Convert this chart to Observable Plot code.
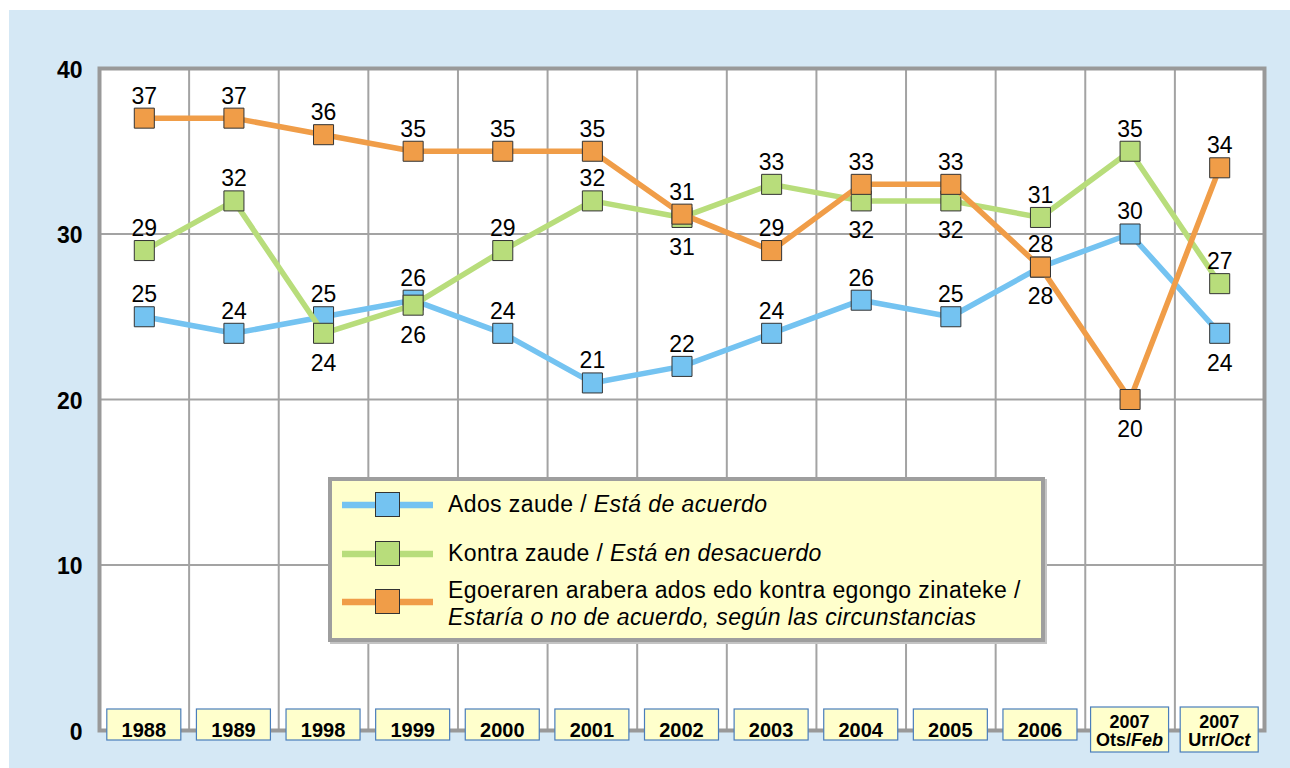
<!DOCTYPE html>
<html><head><meta charset="utf-8">
<script src="https://cdn.jsdelivr.net/npm/d3@7"></script>
<script src="https://cdn.jsdelivr.net/npm/@observablehq/plot@0.6"></script>
<style>
html,body{margin:0;padding:0;background:#fff;}
#wrap{position:relative;width:1290px;height:768px;overflow:hidden;font-family:"Liberation Sans",Arial,sans-serif;}
#bg{position:absolute;left:9px;top:10px;right:0;bottom:0;background:#d5e8f5;}
#chart{position:absolute;left:0;top:0;}
#legend{position:absolute;left:328px;top:477px;width:709px;height:157px;border:4px solid #9e9e9e;background:#ffffcc;box-shadow:2px 2px 0 #c4c4c4;}
.sw{position:absolute;left:10px;}
.lt{position:absolute;left:116px;font-size:23px;letter-spacing:0.4px;color:#000;line-height:27px;white-space:nowrap;}
</style></head>
<body><div id="wrap"><div id="bg"></div><div id="chart"></div><div id="legend"></div></div>
<script>
// ---- data ----
const categories = ["1988","1989","1998","1999","2000","2001","2002","2003","2004","2005","2006","2007 Ots/Feb","2007 Urr/Oct"];
const catLine1 = ["1988","1989","1998","1999","2000","2001","2002","2003","2004","2005","2006","2007","2007"];
const catLine2Eu = ["","","","","","","","","","","","Ots/","Urr/"];
const catLine2Es = ["","","","","","","","","","","","Feb","Oct"];

const ados   = [25,24,25,26,24,21,22,24,26,25,28,30,24];
const kontra = [29,32,24,25.7,29,32,31,33,32,32,31,35,27];
const egoera = [37,37,36,35,35,35,31.2,29,33,33,28,20,34];

const adosPos   = ["t","t","t","t","t","t","t","t","t","t","t","t","b"];
const kontraPos = ["t","t","b","b","t","t","b","t","b","b","t","t","t"];
const egoeraPos = ["t","t","t","t","t","t","t","t","t","t","b","b","t"];

const seriesColors = ["#74c3f1","#b8dd7b","#f09d48"];
const seriesNames = [
  ["Ados zaude / ","Está de acuerdo"],
  ["Kontra zaude / ","Está en desacuerdo"],
  ["Egoeraren arabera ados edo kontra egongo zinateke /","Estaría o no de acuerdo, según las circunstancias"]
];
const yTicks = [0,10,20,30,40];

const seriesVals = [ados, kontra, egoera];
const seriesPos = [adosPos, kontraPos, egoeraPos];
const rows = seriesVals.flatMap((vals, s) => vals.map((v, i) => ({i, v, s, pos: seriesPos[s][i], cat: categories[i]})));

const font = "Liberation Sans, Arial, sans-serif";
const marks = [
  Plot.frame({fill:"white"}),
  Plot.gridY(yTicks.slice(1,-1), {stroke:"#a3a3a3", strokeOpacity:1, strokeWidth:2}),
  Plot.ruleX(d3.range(1, categories.length), {x: d => d - 0.5, stroke:"#a3a3a3", strokeWidth:2}),
  Plot.frame({stroke:"#999", strokeWidth:4}),
  Plot.axisY({ticks: yTicks, tickSize:0, tickPadding:17, fontSize:23, fontWeight:"bold", label:null, fill:"#000", dy:2})
];
seriesVals.forEach((vals, s) => {
  const d = rows.filter(r => r.s === s);
  marks.push(Plot.line(d, {x:"i", y:"v", stroke: seriesColors[s], strokeWidth:5.5}));
  marks.push(Plot.dot(d, {x:"i", y:"v", symbol:"square", r:11.3, fill: seriesColors[s], stroke:"#333", strokeWidth:1}));
});
marks.push(Plot.text(rows.filter(r => r.pos === "t"), {x:"i", y:"v", text: d => String(Math.round(d.v)), dy:-22, fontSize:23, fill:"#000"}));
marks.push(Plot.text(rows.filter(r => r.pos === "b"), {x:"i", y:"v", text: d => String(Math.round(d.v)), dy:30, fontSize:23, fill:"#000"}));

const plot = Plot.plot({
  width:1290, height:768,
  marginLeft:99, marginRight:26, marginTop:68, marginBottom:38,
  style:{background:"transparent", fontFamily: font},
  x:{type:"linear", domain:[-0.5, categories.length - 0.5], axis:null},
  y:{domain:[0,40], axis:null},
  marks
});
document.getElementById("chart").appendChild(plot);

// category label boxes, placed with the plot's own scales
const xs = plot.scale("x"), ys = plot.scale("y");
const svg = d3.select(plot);
const g = svg.append("g").attr("font-family", font).attr("font-weight","bold");
const y0 = ys.apply(0);
categories.forEach((c, i) => {
  const cx = xs.apply(i);
  const two = catLine2Eu[i] !== "";
  const w = two ? 78 : 74, top = two ? y0 - 23 : y0 - 21, h = two ? 45 : 31;
  g.append("rect").attr("x", cx - w/2).attr("y", top).attr("width", w).attr("height", h)
    .attr("fill","#ffffcc").attr("stroke","#4a7ebb").attr("stroke-width",1.2);
  if (!two) {
    g.append("text").attr("x", cx).attr("y", y0 + 7).attr("text-anchor","middle").attr("font-size",20).text(catLine1[i]);
  } else {
    g.append("text").attr("x", cx).attr("y", y0 - 2).attr("text-anchor","middle").attr("font-size",18).text(catLine1[i]);
    const t = g.append("text").attr("x", cx).attr("y", y0 + 16).attr("text-anchor","middle").attr("font-size",18);
    t.append("tspan").text(catLine2Eu[i]);
    t.append("tspan").attr("font-style","italic").text(catLine2Es[i]);
  }
});

// legend
const leg = document.getElementById("legend");
const rowCenters = [23.5, 72.5, 120.5];
seriesNames.forEach((nm, s) => {
  const cy = rowCenters[s];
  const sw = document.createElementNS("http://www.w3.org/2000/svg","svg");
  sw.setAttribute("class","sw"); sw.setAttribute("width","92"); sw.setAttribute("height","28");
  sw.style.top = (cy - 14) + "px";
  sw.innerHTML = `<line x1="0" x2="91" y1="14" y2="14" stroke="${seriesColors[s]}" stroke-width="6.5"/>` +
    `<rect x="33.5" y="1.5" width="24" height="24" fill="${seriesColors[s]}" stroke="#333" stroke-width="1"/>`;
  leg.appendChild(sw);
  const t = document.createElement("div");
  t.className = "lt";
  if (s < 2) {
    t.style.top = (cy - 13.5) + "px";
    t.innerHTML = `${nm[0]}<i>${nm[1]}</i>`;
  } else {
    t.style.top = (cy - 25) + "px";
    t.innerHTML = `${nm[0]}<br><i>${nm[1]}</i>`;
  }
  leg.appendChild(t);
});
</script></body></html>
